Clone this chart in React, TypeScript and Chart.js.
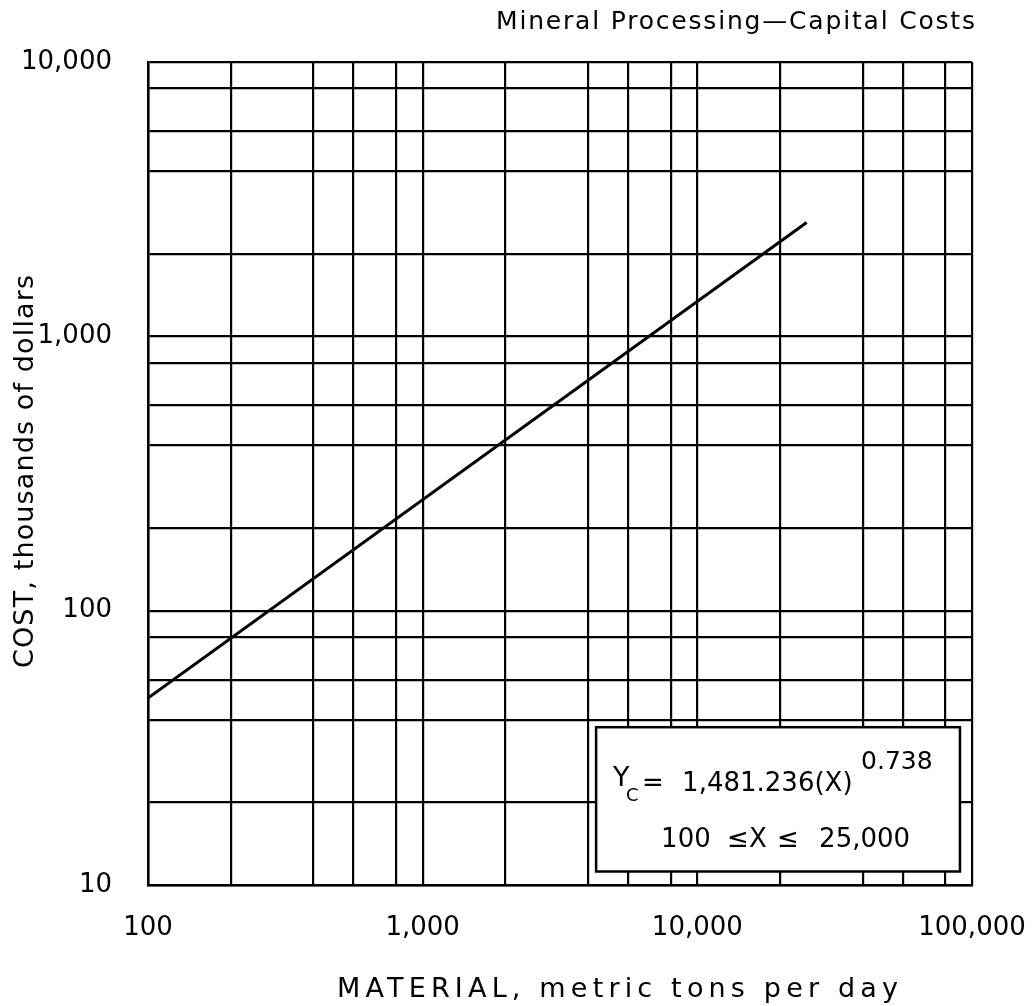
import React, { useEffect, useRef } from "react";
import { Chart, registerables } from "chart.js";

Chart.register(...registerables);

// ---- data ----
const X_VALUES = [100, 25000];
const COST_VALUES = [48, 2600];

const X_GRID = [100, 200, 400, 560, 800, 1000, 2000, 4000, 5600, 8000, 10000, 20000, 40000, 56000, 80000, 100000];
const Y_GRID = [10, 20, 40, 56, 80, 100, 200, 400, 560, 800, 1000, 2000, 4000, 5600, 8000, 10000];

const X_TICK_LABELS: Record<number, string> = { 100: "100", 1000: "1,000", 10000: "10,000", 100000: "100,000" };
const Y_TICK_LABELS: Record<number, string> = { 10: "10", 100: "100", 1000: "1,000", 10000: "10,000" };

const TITLE = "Mineral Processing\u2014Capital Costs";
const X_TITLE = "MATERIAL, metric tons per day";
const Y_TITLE = "COST, thousands of dollars";
const FORMULA_COEF = "1,481.236(X)";
const FORMULA_EXP = "0.738";
const RANGE_MIN = "100";
const RANGE_MAX = "25,000";

// box corners in data units
const BOX_X = [4280, 90400];
const BOX_Y = [37.6, 11.2];

const FONT = "'DejaVu Sans', sans-serif";

function fitText(ctx: CanvasRenderingContext2D, text: string, x: number, y: number, width: number, font: string) {
  ctx.save();
  ctx.font = font;
  (ctx as any).letterSpacing = "0px";
  const w = ctx.measureText(text).width;
  const ls = text.length > 1 ? (width - w) / (text.length - 1) : 0;
  (ctx as any).letterSpacing = ls + "px";
  ctx.textAlign = "left";
  ctx.textBaseline = "alphabetic";
  ctx.fillStyle = "#000";
  ctx.fillText(text, x, y);
  ctx.restore();
}

function plainText(ctx: CanvasRenderingContext2D, text: string, x: number, y: number, size: number) {
  ctx.save();
  ctx.font = `${size}px ${FONT}`;
  ctx.textAlign = "left";
  ctx.textBaseline = "alphabetic";
  ctx.fillStyle = "#000";
  ctx.fillText(text, x, y);
  ctx.restore();
}

const decorPlugin = {
  id: "decor",
  afterDatasetsDraw(chart: any) {
    const ctx: CanvasRenderingContext2D = chart.ctx;
    const xs = chart.scales.x;
    const ys = chart.scales.y;

    // formula box
    const bl = xs.getPixelForValue(BOX_X[0]);
    const br = xs.getPixelForValue(BOX_X[1]);
    const bt = ys.getPixelForValue(BOX_Y[0]);
    const bb = ys.getPixelForValue(BOX_Y[1]);
    ctx.save();
    ctx.fillStyle = "#fff";
    ctx.fillRect(bl, bt, br - bl, bb - bt);
    ctx.strokeStyle = "#000";
    ctx.lineWidth = 2.5;
    ctx.strokeRect(bl, bt, br - bl, bb - bt);
    ctx.restore();

    plainText(ctx, "Y", bl + 17, bt + 59, 27);
    plainText(ctx, "C", bl + 30, bt + 74, 18);
    plainText(ctx, "=", bl + 46, bt + 64, 26);
    plainText(ctx, FORMULA_COEF, bl + 86, bt + 64, 26);
    plainText(ctx, FORMULA_EXP, bl + 265, bt + 42, 25);
    plainText(ctx, RANGE_MIN, bl + 65, bt + 120, 26);
    plainText(ctx, "\u2264", bl + 131, bt + 120, 26);
    plainText(ctx, "X", bl + 153, bt + 120, 26);
    plainText(ctx, "\u2264", bl + 181, bt + 120, 26);
    plainText(ctx, RANGE_MAX, bl + 223, bt + 120, 26);
  },
  afterDraw(chart: any) {
    const ctx: CanvasRenderingContext2D = chart.ctx;
    // title (top right)
    fitText(ctx, TITLE, 496, 29, 479, `25px ${FONT}`);
    // x axis title
    fitText(ctx, X_TITLE, 337, 997, 561, `27px ${FONT}`);
    // y axis title, rotated
    ctx.save();
    ctx.translate(33, 668);
    ctx.rotate(-Math.PI / 2);
    fitText(ctx, Y_TITLE, 0, 0, 393, `27px ${FONT}`);
    ctx.restore();
  },
};

export default function App() {
  const ref = useRef<HTMLCanvasElement | null>(null);

  useEffect(() => {
    document.body.style.margin = "0";
    const canvas = ref.current!;
    const chart = new Chart(canvas, {
      type: "line",
      data: {
        datasets: [
          {
            data: X_VALUES.map((x, i) => ({ x, y: COST_VALUES[i] })),
            borderColor: "#000",
            borderWidth: 3,
            pointRadius: 0,
            tension: 0,
            fill: false,
          },
        ],
      },
      options: {
        responsive: false,
        animation: false,
        devicePixelRatio: 1,
        layout: { padding: { top: 62, right: 63, left: 0, bottom: 0 } },
        plugins: {
          legend: { display: false },
          tooltip: { enabled: false },
          title: { display: false },
        },
        scales: {
          x: {
            type: "logarithmic",
            min: 100,
            max: 100000,
            afterBuildTicks: (s: any) => {
              s.ticks = X_GRID.map((v) => ({ value: v }));
            },
            afterFit: (s: any) => {
              s.height = 121;
              s.paddingLeft = 0;
              s.paddingRight = 0;
            },
            ticks: {
              autoSkip: false,
              maxRotation: 0,
              minRotation: 0,
              padding: 28,
              color: "#000",
              font: { family: FONT, size: 26 },
              callback: (v: any) => X_TICK_LABELS[Math.round(Number(v))] ?? "",
            },
            grid: { color: "#000", lineWidth: 2.2, drawTicks: false },
            border: { display: true, color: "#000", width: 2.5 },
          },
          y: {
            type: "logarithmic",
            min: 10,
            max: 10000,
            afterBuildTicks: (s: any) => {
              s.ticks = Y_GRID.map((v) => ({ value: v }));
            },
            afterFit: (s: any) => {
              s.width = 148;
              s.paddingTop = 0;
              s.paddingBottom = 0;
            },
            ticks: {
              autoSkip: false,
              padding: 36,
              color: "#000",
              font: { family: FONT, size: 26 },
              callback: (v: any) => Y_TICK_LABELS[Math.round(Number(v))] ?? "",
            },
            grid: { color: "#000", lineWidth: 2.2, drawTicks: false },
            border: { display: true, color: "#000", width: 2.5 },
          },
        },
      },
      plugins: [decorPlugin],
    } as any);
    return () => chart.destroy();
  }, []);

  return (
    <div style={{ width: 1035, height: 1006, background: "#fff" }}>
      <canvas ref={ref} width={1035} height={1006} style={{ display: "block" }} />
    </div>
  );
}
